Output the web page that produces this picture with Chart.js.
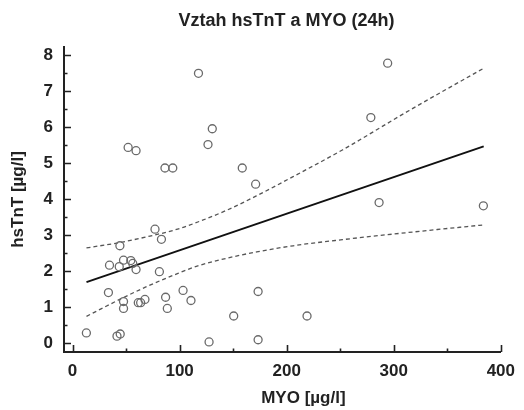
<!DOCTYPE html>
<html>
<head>
<meta charset="utf-8">
<script src="https://cdn.jsdelivr.net/npm/chart.js@4"></script>
<style>
  html, body { margin: 0; padding: 0; background: #fff; }
  #wrap { width: 524px; height: 410px; }
</style>
</head>
<body>
<div id="wrap"><canvas id="chart"></canvas></div>
<script>
// scatter points
const myo = [12.9, 33.5, 34.5, 41.5, 43.6, 44.2, 44.5, 47.6, 47.6, 47.6, 51.9, 54.4, 56.2, 59.3, 59.3,
  61.4, 63.6, 67.6, 77.0, 81.1, 83.0, 86.3, 86.9, 88.5, 93.6, 103.2, 110.6, 117.6, 126.5, 127.5,
  130.5, 150.5, 158.5, 171.0, 173.3, 173.3, 219.0, 278.6, 286.3, 294.3, 383.7];
const hstnt = [0.29, 1.41, 2.17, 0.20, 2.13, 2.71, 0.26, 2.31, 1.16, 0.97, 5.44, 2.30, 2.22, 5.35, 2.05,
  1.13, 1.13, 1.22, 3.17, 1.99, 2.89, 4.87, 1.28, 0.97, 4.87, 1.47, 1.19, 7.50, 5.52, 0.04,
  5.96, 0.76, 4.87, 4.42, 1.44, 0.10, 0.76, 6.27, 3.91, 7.78, 3.82];

// regression line ends
const regX = [13, 384];
const regY = [1.70, 5.47];

// confidence band, read at a few places along the dashed curves
const bandX = [13, 44, 68, 99, 117, 145, 172, 206, 252, 314, 384];
const upperY = [2.65, 2.80, 2.95, 3.18, 3.37, 3.71, 4.10, 4.63, 5.37, 6.46, 7.64];
const lowerY = [0.75, 1.22, 1.56, 1.95, 2.15, 2.37, 2.54, 2.71, 2.88, 3.08, 3.29];

const xTicks = [0, 100, 200, 300, 400];
const yTicks = [0, 1, 2, 3, 4, 5, 6, 7, 8];

const toPts = (xs, ys) => xs.map((x, i) => ({ x: x, y: ys[i] }));

const FONT = "'Liberation Sans', Arial, sans-serif";
const INK = '#222';

// inward tick marks (major + minor) and the titles, which sit a bit right of centre
const decorations = {
  id: 'decorations',
  afterDraw(chart) {
    const ctx = chart.ctx;
    const xs = chart.scales.x, ys = chart.scales.y;
    const area = chart.chartArea;
    ctx.save();
    ctx.strokeStyle = INK;
    ctx.lineWidth = 1.6;
    ctx.beginPath();
    for (let v = 0; v <= 400; v += 50) {
      const px = Math.round(xs.getPixelForValue(v)) + 0.5;
      const len = v % 100 === 0 ? 7 : 3.5;
      ctx.moveTo(px, area.bottom);
      ctx.lineTo(px, area.bottom - len);
    }
    for (let v = 0; v <= 8; v += 0.5) {
      const py = Math.round(ys.getPixelForValue(v)) + 0.5;
      const len = v % 1 === 0 ? 7 : 3.5;
      ctx.moveTo(area.left, py);
      ctx.lineTo(area.left + len, py);
    }
    ctx.stroke();

    ctx.fillStyle = INK;
    ctx.textAlign = 'center';
    ctx.textBaseline = 'middle';
    ctx.font = 'bold 18px ' + FONT;
    ctx.fillText('Vztah hsTnT a MYO (24h)', (area.left + area.right) / 2 + 4, 21);
    ctx.font = 'bold 17px ' + FONT;
    ctx.fillText('MYO [µg/l]', (area.left + area.right) / 2 + 21, 398);
    ctx.restore();
  }
};

new Chart(document.getElementById('chart'), {
  type: 'scatter',
  data: {
    datasets: [
      {
        label: 'data',
        data: toPts(myo, hstnt),
        pointRadius: 4,
        pointBorderWidth: 1.3,
        pointBorderColor: '#6a6a6a',
        pointBackgroundColor: 'rgba(0,0,0,0)',
        pointStyle: 'circle'
      },
      {
        label: 'regression',
        data: toPts(regX, regY),
        showLine: true,
        borderColor: '#111',
        borderWidth: 2,
        pointRadius: 0
      },
      {
        label: 'upper',
        data: toPts(bandX, upperY),
        showLine: true,
        borderColor: '#555',
        borderWidth: 1.3,
        borderDash: [4, 3],
        cubicInterpolationMode: 'monotone',
        pointRadius: 0
      },
      {
        label: 'lower',
        data: toPts(bandX, lowerY),
        showLine: true,
        borderColor: '#555',
        borderWidth: 1.3,
        borderDash: [4, 3],
        cubicInterpolationMode: 'monotone',
        pointRadius: 0
      }
    ]
  },
  options: {
    responsive: true,
    maintainAspectRatio: false,
    animation: false,
    events: [],
    layout: { padding: { left: 0, right: 16, top: 47, bottom: 0 } },
    plugins: {
      legend: { display: false },
      tooltip: { enabled: false },
      title: { display: false }
    },
    scales: {
      x: {
        type: 'linear',
        min: -8,
        max: 400,
        afterBuildTicks: s => { s.ticks = xTicks.map(v => ({ value: v })); },
        afterFit: s => { s.height = 58; },
        grid: { display: false, drawTicks: false },
        border: { display: true, color: INK, width: 2 },
        ticks: {
          color: INK,
          padding: 9,
          maxRotation: 0,
          font: { family: FONT, size: 17, weight: 'bold' }
        },
        title: { display: false }
      },
      y: {
        type: 'linear',
        min: -0.24,
        max: 8.23,
        afterBuildTicks: s => { s.ticks = yTicks.map(v => ({ value: v })); },
        afterFit: s => { s.width = 64; },
        grid: { display: false, drawTicks: false },
        border: { display: true, color: INK, width: 2 },
        ticks: {
          color: INK,
          padding: 11,
          font: { family: FONT, size: 17, weight: 'bold' }
        },
        title: {
          display: true,
          text: 'hsTnT [µg/l]',
          color: INK,
          font: { family: FONT, size: 17, weight: 'bold' },
          padding: { top: 8, bottom: 0 }
        }
      }
    }
  },
  plugins: [decorations]
});
</script>
</body>
</html>
